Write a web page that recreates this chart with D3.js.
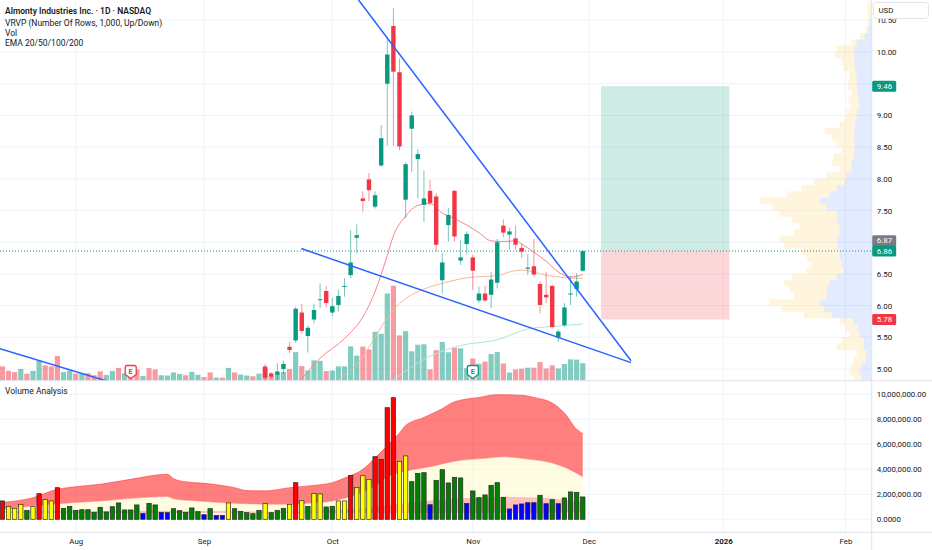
<!DOCTYPE html>
<html>
<head>
<meta charset="utf-8">
<script src="https://cdn.jsdelivr.net/npm/d3@7"></script>
<style>
  body { margin: 0; background: #fff; }
  svg text { font-family: Roboto, "Noto Sans", sans-serif; }
</style>
</head>
<body>
<svg id="chart"></svg>
<script>
// bar index 0 = 1 Aug 2025, one step per trading day
const monthIdx = [0, 21, 42, 65, 84, 106, 126];
const monthLabels = ['Aug', 'Sep', 'Oct', 'Nov', 'Dec', '2026', 'Feb'];

const candleIdx = [31, 32, 33, 34, 35, 36, 37, 38, 39, 40, 41, 42, 43, 44, 45, 46, 47, 48, 49, 50,
  51, 52, 53, 54, 55, 56, 57, 58, 59, 60, 61, 62, 63, 64, 65, 66, 67, 68, 69, 70,
  71, 72, 73, 74, 75, 76, 77, 78, 79, 80, 81, 82, 83];
const candleOpen = [5.04, 4.93, 4.91, 5.00, 5.35, 5.45, 5.89, 5.52, 5.78, 6.09, 6.23, 5.89, 6.01, 6.30, 6.48, 7.07, 7.69, 7.99, 7.56, 8.21,
  9.50, 10.41, 9.68, 7.67, 8.79, 8.31, 7.59, 7.81, 7.72, 6.40, 7.27, 7.81, 6.71, 6.97, 6.76, 6.08, 6.19, 6.17, 6.36, 7.26,
  7.12, 7.06, 6.91, 6.58, 6.62, 6.34, 6.17, 6.31, 5.50, 5.69, 6.18, 6.26, 6.55];
const candleHigh = [5.08, 4.95, 5.09, 5.13, 5.43, 5.98, 6.03, 5.69, 6.03, 6.35, 6.31, 6.12, 6.25, 6.43, 7.19, 7.28, 7.80, 8.09, 7.80, 8.85,
  10.24, 10.69, 9.90, 8.26, 9.06, 8.47, 8.13, 7.98, 7.77, 6.83, 7.54, 7.82, 7.03, 7.17, 6.80, 6.30, 6.31, 6.53, 7.05, 7.36,
  7.23, 7.26, 6.98, 6.81, 7.05, 6.38, 6.53, 6.33, 5.62, 6.04, 6.47, 6.51, 6.87];
const candleLow = [4.80, 4.85, 4.83, 4.92, 5.25, 5.41, 5.56, 5.26, 5.72, 5.96, 5.97, 5.83, 5.90, 6.14, 6.43, 6.82, 7.48, 7.65, 7.53, 8.19,
  8.52, 8.52, 8.45, 7.38, 8.11, 7.69, 7.32, 7.58, 6.85, 6.19, 7.01, 7.01, 6.64, 6.82, 6.25, 6.04, 6.06, 5.96, 6.27, 7.08,
  6.88, 6.88, 6.75, 6.48, 6.46, 5.88, 6.04, 5.64, 5.43, 5.66, 6.01, 6.14, 6.53];
const candleClose = [4.86, 4.88, 4.96, 5.08, 5.30, 5.95, 5.60, 5.65, 5.93, 6.10, 6.04, 5.99, 6.15, 6.31, 6.68, 7.11, 7.65, 7.82, 7.74, 8.64,
  9.96, 9.69, 8.51, 8.23, 9.00, 8.39, 7.69, 7.62, 6.96, 6.68, 7.43, 7.09, 6.76, 7.13, 6.55, 6.19, 6.08, 6.41, 7.00, 7.15,
  7.17, 6.96, 6.85, 6.60, 6.49, 6.01, 6.13, 5.66, 5.59, 5.97, 6.19, 6.38, 6.86];

// daily volume (millions), bars -12 .. 83
const volIdx = d3.range(-12, 84);
const volume = [1.47, 1.01, 0.88, 1.20, 0.72, 1.01, 2.05, 1.57, 1.47, 2.53, 0.88, 1.04,
  0.72, 0.77, 0.77, 0.56, 0.96, 0.59, 1.01, 1.31, 0.75, 0.75, 1.15, 0.48, 1.28, 1.15, 0.56, 0.53, 0.85, 0.69, 0.56, 0.91, 0.61,
  0.37, 0.85, 0.32, 0.32, 1.31, 0.85, 0.64, 0.53, 0.45, 0.72, 1.25, 0.53, 0.72, 0.88, 1.20, 2.93, 1.49, 1.04, 2.08, 2.03, 0.99,
  1.04, 1.47, 1.47, 3.52, 2.56, 3.49, 3.20, 5.01, 4.80, 8.93, 9.73, 4.64, 5.07, 3.01, 3.68, 3.73, 1.17, 3.12, 3.97, 2.91, 3.36, 3.31, 1.28,
  2.27, 1.73, 1.95, 2.72, 2.93, 1.76, 0.83, 1.15, 1.23, 1.33, 1.33, 1.92, 1.25, 1.57, 1.25, 1.71, 2.19, 2.16, 1.79];
// up/down for bars before the first visible candle (1 = up)
const earlyVolUp = [0, 0, 0, 1, 0, 1, 1, 0, 0, 0, 1, 1,
  0, 1, 0, 0, 0, 1, 1, 0, 1, 0, 0, 1, 0, 0, 1, 1, 1, 1, 0, 1, 1,
  0, 0, 1, 0, 1, 0, 1, 1, 0, 1];
// volume analysis class: r = very high, y = high, g = normal, b = low
const volClass = ['r', 'y', 'y', 'y', 'g', 'y', 'r', 'y', 'y', 'r', 'g', 'g',
  'g', 'g', 'g', 'g', 'g', 'g', 'g', 'g', 'g', 'g', 'g', 'b', 'g', 'g', 'b', 'b', 'g', 'g', 'g', 'g', 'g',
  'b', 'g', 'b', 'b', 'y', 'g', 'g', 'g', 'g', 'g', 'y', 'g', 'g', 'g', 'y', 'r', 'y', 'g', 'y', 'y', 'g',
  'g', 'y', 'y', 'r', 'y', 'y', 'y', 'r', 'r', 'r', 'r', 'y', 'y', 'g', 'g', 'g', 'b', 'g', 'g', 'g', 'g', 'g', 'b',
  'g', 'g', 'g', 'g', 'g', 'g', 'b', 'b', 'b', 'b', 'b', 'g', 'b', 'g', 'b', 'g', 'g', 'g', 'g'];

// volume analysis bands [bar, millions]
const vaUpper = [[-12, 1.35], [-7, 1.73], [-3, 2.4], [-1, 2.55], [4, 2.8], [9, 3.2], [15, 3.6], [16, 3.25], [18, 3.0], [21, 2.88],
  [26, 2.53], [28, 2.3], [31, 2.27], [35, 2.53], [38, 2.67], [42, 2.93], [44, 3.3], [47, 4.0], [49, 4.9], [51, 5.9], [53, 6.9],
  [54, 7.5], [57, 8.15], [60, 8.85], [62, 9.4], [66, 9.75], [69, 9.97], [73, 9.92], [75, 9.75], [78, 9.3], [80, 8.5], [82, 7.2], [83, 6.85]];
const vaMiddle = [[-12, 0.8], [-4, 1.2], [4, 1.47], [15, 1.82], [16, 1.65], [20, 1.47], [26, 1.28], [34, 1.2], [38, 1.28], [42, 1.47],
  [46, 2.0], [49, 2.7], [51, 3.4], [54, 3.85], [58, 4.2], [62, 4.65], [67, 4.88], [70, 5.0], [74, 4.82], [78, 4.5], [81, 3.95], [83, 3.4]];
const vaLower = [[-12, 0.62], [15, 0.68], [30, 0.62], [38, 0.65], [45, 0.8], [50, 1.05], [54, 1.3], [57, 1.47], [62, 1.65],
  [70, 1.81], [77, 1.7], [83, 1.33]];
const vaBase = [[-12, 0.5], [40, 0.5], [83, 0.55]];

// moving averages [bar, price]
const ema20 = [[34, 4.6], [37, 4.85], [40, 5.17], [44, 5.48], [47, 5.82], [49, 6.22], [51, 6.79], [52, 7.10], [54, 7.41], [56, 7.58],
  [58, 7.61], [60, 7.46], [62, 7.37], [64, 7.27], [66, 7.15], [68, 7.02], [70, 7.01], [72, 7.02], [73, 6.97], [75, 6.84],
  [77, 6.70], [79, 6.53], [81, 6.45], [83, 6.49]];
const ema50 = [[40, 4.6], [43, 4.83], [47, 5.19], [50, 5.66], [52, 5.93], [54, 6.11], [57, 6.26], [60, 6.35], [65, 6.45], [69, 6.47],
  [71, 6.53], [73, 6.56], [77, 6.48], [80, 6.44], [83, 6.43]];
const ema100 = [[49, 4.6], [52, 4.83], [58, 5.20], [63, 5.37], [69, 5.46], [74, 5.63], [78, 5.67], [83, 5.71]];

// drawn trend lines [bar, price]
const trendLines = [
  [[46.3, 10.82], [90.9, 5.13]],
  [[36.9, 6.90], [90.9, 5.10]],
  [[-12.4, 5.32], [14, 4.55]]
];

// long position tool
const posStart = 86, posEnd = 107;
const posEntry = 6.87, posTarget = 9.46, posStop = 5.78;
const lastPrice = 6.86;
const earningsIdx = [9, 65];
const earningsBeat = [false, true];

// visible range volume profile, 0.10 rows
const vpPrice = [10.75, 10.65, 10.55, 10.45, 10.35, 10.25, 10.15, 10.05, 9.95, 9.85, 9.75, 9.65, 9.55, 9.45, 9.35, 9.25, 9.15, 9.05,
  8.95, 8.85, 8.75, 8.65, 8.55, 8.45, 8.35, 8.25, 8.15, 8.05, 7.95, 7.85, 7.75, 7.65, 7.55, 7.45, 7.35, 7.25, 7.15, 7.05,
  6.95, 6.85, 6.75, 6.65, 6.55, 6.45, 6.35, 6.25, 6.15, 6.05, 5.95, 5.85, 5.75, 5.65, 5.55, 5.45, 5.35, 5.25, 5.15, 5.05, 4.95, 4.85];
const vpUp = [0, 0, 0.1, 0.2, 0.4, 0.7, 1.5, 1.7, 1.8, 1.7, 1.7, 1.5, 1.5, 1.5, 1.4, 1.3, 1.2, 1.5,
  1.5, 1.7, 1.7, 1.8, 1.7, 1.7, 1.8, 2.0, 2.0, 2.5, 2.7, 3.5, 4.2, 5.2, 4.5, 3.5, 3.5, 3.2, 3.2, 3.5,
  3.4, 3.2, 3.2, 3.0, 2.8, 3.5, 4.2, 4.5, 4.5, 5.2, 4.8, 4.0, 1.8, 1.4, 1.2, 0.8, 0.8, 0.5, 0.6, 1.0, 1.2, 1.0];
const vpDown = [0.4, 0.4, 0.3, 0.2, 0.2, 0.5, 0.5, 1.8, 1.9, 1.3, 1.1, 0.7, 0.8, 0.9, 0.6, 1.0, 0.9, 1.0,
  1.2, 1.5, 3.0, 2.2, 1.8, 1.3, 2.0, 2.0, 1.2, 2.0, 3.1, 3.5, 4.3, 6.0, 5.5, 5.7, 4.5, 4.0, 4.6, 5.7,
  5.4, 3.8, 3.3, 3.0, 3.7, 4.5, 4.6, 3.7, 3.3, 5.0, 4.2, 2.8, 1.4, 1.2, 1.0, 2.2, 2.7, 1.0, 1.2, 1.0, 1.0, 0.8];

const priceTicks = [5.0, 5.5, 6.0, 6.5, 7.0, 7.5, 8.0, 8.5, 9.0, 9.5, 10.0, 10.5];
const volTicks = [0, 2, 4, 6, 8, 10];

const W = 932, H = 550;
const plotW = 871.7, paneBottom = 380.7, volPaneBottom = 532.3;
const teal = '#089981', red = '#f23645', grid = '#f0f3fa';
const vaColors = { r: '#ff0000', y: '#ffff00', g: '#008000', b: '#0000ff' };

const svg = d3.select('#chart').attr('width', W).attr('height', H);

const x = d3.scaleLinear().domain([-12.4, 130.3]).range([0, plotW]);
const y = d3.scaleLinear().domain([4.815, 10.82]).range([paneBottom, 0]);
const yVolOverlay = d3.scaleLinear().domain([0, 10]).range([paneBottom, paneBottom - 97.7]);
const yVA = d3.scaleLinear().domain([0, 10]).range([519.3, 394.3]);
const vpW = d3.scaleLinear().domain([0, 10]).range([0, 100]);

const defs = svg.append('defs');
defs.append('clipPath').attr('id', 'clipPrice')
  .append('rect').attr('x', 0).attr('y', 0).attr('width', plotW).attr('height', paneBottom);
defs.append('clipPath').attr('id', 'clipVol')
  .append('rect').attr('x', 0).attr('y', paneBottom).attr('width', plotW).attr('height', volPaneBottom - paneBottom);

// grid
svg.append('g').selectAll('line').data(priceTicks).enter().append('line')
  .attr('x1', 0).attr('x2', plotW).attr('y1', d => y(d)).attr('y2', d => y(d))
  .attr('stroke', grid);
svg.append('g').selectAll('line').data(volTicks).enter().append('line')
  .attr('x1', 0).attr('x2', plotW).attr('y1', d => yVA(d)).attr('y2', d => yVA(d))
  .attr('stroke', grid);
svg.append('g').selectAll('line').data(monthIdx).enter().append('line')
  .attr('x1', d => x(d)).attr('x2', d => x(d)).attr('y1', 0).attr('y2', volPaneBottom)
  .attr('stroke', grid);

const price = svg.append('g').attr('clip-path', 'url(#clipPrice)');

// position tool
price.append('rect')
  .attr('x', x(posStart)).attr('width', x(posEnd) - x(posStart))
  .attr('y', y(posTarget)).attr('height', y(posEntry) - y(posTarget))
  .attr('fill', 'rgba(8,153,129,0.2)');
price.append('rect')
  .attr('x', x(posStart)).attr('width', x(posEnd) - x(posStart))
  .attr('y', y(posEntry)).attr('height', y(posStop) - y(posEntry))
  .attr('fill', 'rgba(242,54,69,0.2)');

// volume profile, anchored on the price scale: up part next to the scale, down part left of it
const vp = price.append('g');
const rowY = d => y(d + 0.05), rowH = d => y(d - 0.05) - y(d + 0.05);
vp.selectAll('rect.down').data(vpPrice).enter().append('rect')
  .attr('class', 'down')
  .attr('x', (d, i) => plotW - vpW(vpUp[i] + vpDown[i]))
  .attr('width', (d, i) => vpW(vpDown[i]))
  .attr('y', rowY).attr('height', rowH)
  .attr('fill', 'rgba(255,222,150,0.33)');
vp.selectAll('rect.up').data(vpPrice).enter().append('rect')
  .attr('class', 'up')
  .attr('x', (d, i) => plotW - vpW(vpUp[i]))
  .attr('width', (d, i) => vpW(vpUp[i]))
  .attr('y', rowY).attr('height', rowH)
  .attr('fill', 'rgba(41,98,255,0.13)');

// volume bars at the foot of the price pane
const candleUp = candleIdx.map((d, i) => candleClose[i] >= candleOpen[i]);
const isUp = (d, i) => {
  const k = candleIdx.indexOf(d);
  return k >= 0 ? candleUp[k] : earlyVolUp[i] === 1;
};
price.append('g').selectAll('rect').data(volIdx).enter().append('rect')
  .attr('x', d => x(d) - 2.6).attr('width', 5.2)
  .attr('y', (d, i) => yVolOverlay(volume[i]))
  .attr('height', (d, i) => paneBottom - yVolOverlay(volume[i]))
  .attr('fill', (d, i) => isUp(d, i) ? 'rgba(8,153,129,0.5)' : 'rgba(242,54,69,0.5)');

// last price line
price.append('line')
  .attr('x1', 0).attr('x2', plotW).attr('y1', y(lastPrice)).attr('y2', y(lastPrice))
  .attr('stroke', teal).attr('stroke-dasharray', '1,2');

// emas
const emaLine = d3.line().x(d => x(d[0])).y(d => y(d[1])).curve(d3.curveMonotoneX);
[[ema100, '#a9e7df'], [ema50, '#f8b795'], [ema20, '#f5868a']].forEach(([data, c]) => {
  price.append('path').attr('d', emaLine(data)).attr('fill', 'none')
    .attr('stroke', c).attr('stroke-width', 1);
});

// candles
const candles = price.append('g').selectAll('g').data(candleIdx).enter().append('g');
candles.append('line')
  .attr('x1', d => x(d)).attr('x2', d => x(d))
  .attr('y1', (d, i) => y(candleHigh[i])).attr('y2', (d, i) => y(candleLow[i]))
  .attr('stroke', (d, i) => candleUp[i] ? teal : red)
  .attr('stroke-opacity', 0.55).attr('stroke-width', 1);
candles.append('rect')
  .attr('x', d => x(d) - 2.2).attr('width', 4.4)
  .attr('y', (d, i) => y(Math.max(candleOpen[i], candleClose[i])))
  .attr('height', (d, i) => Math.max(1, Math.abs(y(candleOpen[i]) - y(candleClose[i]))))
  .attr('fill', (d, i) => candleUp[i] ? teal : red);

// trend lines
price.append('g').selectAll('line').data(trendLines).enter().append('line')
  .attr('x1', d => x(d[0][0])).attr('y1', d => y(d[0][1]))
  .attr('x2', d => x(d[1][0])).attr('y2', d => y(d[1][1]))
  .attr('stroke', '#2962ff').attr('stroke-width', 1.5);

// earnings badges
const badge = price.append('g').selectAll('g').data(earningsIdx).enter().append('g')
  .attr('transform', d => 'translate(' + x(d) + ',372)');
badge.append('path')
  .attr('d', 'M-5.5,-4.5 Q-5.5,-6.5 -3.5,-6.5 L3.5,-6.5 Q5.5,-6.5 5.5,-4.5 L5.5,2.5 L0,6.5 L-5.5,2.5 Z')
  .attr('fill', '#fff').attr('stroke', (d, i) => earningsBeat[i] ? teal : red).attr('stroke-width', 1.3);
badge.append('text').attr('y', 0.5).attr('text-anchor', 'middle').attr('dominant-baseline', 'middle')
  .attr('font-size', 7.5).attr('font-weight', 700)
  .attr('fill', (d, i) => earningsBeat[i] ? teal : red).text('E');

// volume analysis pane
const va = svg.append('g').attr('clip-path', 'url(#clipVol)');
const mono = d3.line().curve(d3.curveMonotoneX);
const toPts = arr => arr.map(d => [x(d[0]), yVA(d[1])]);
const area = (top, bottom) => mono(toPts(top)) + 'L' + mono(toPts(bottom).reverse()).slice(1) + 'Z';
va.append('path').attr('d', area(vaUpper, vaMiddle)).attr('fill', 'rgba(255,0,0,0.5)');
va.append('path').attr('d', area(vaMiddle, vaLower)).attr('fill', 'rgba(255,248,170,0.35)');
va.append('path').attr('d', area(vaLower, vaBase)).attr('fill', 'rgba(255,0,0,0.25)');
va.append('path').attr('d', mono(toPts(vaUpper))).attr('fill', 'none').attr('stroke', 'rgba(255,60,60,0.6)');
va.append('path').attr('d', mono(toPts(vaMiddle))).attr('fill', 'none').attr('stroke', 'rgba(255,120,120,0.5)');

va.append('g').selectAll('rect').data(volIdx).enter().append('rect')
  .attr('x', d => x(d) - 2.2).attr('width', 4.4)
  .attr('y', (d, i) => yVA(volume[i]))
  .attr('height', (d, i) => yVA(0) - yVA(volume[i]))
  .attr('fill', (d, i) => vaColors[volClass[i]])
  .attr('stroke', '#2a2a2a').attr('stroke-width', 0.7);

// separators
svg.append('line').attr('x1', 0).attr('x2', W).attr('y1', paneBottom).attr('y2', paneBottom).attr('stroke', '#e0e3eb');
svg.append('line').attr('x1', 0).attr('x2', W).attr('y1', volPaneBottom).attr('y2', volPaneBottom).attr('stroke', '#e0e3eb');
svg.append('line').attr('x1', plotW).attr('x2', plotW).attr('y1', 0).attr('y2', H).attr('stroke', '#e0e3eb');

// price labels on the scale
const tagH = 11;
const tags = [
  { v: posTarget, c: y(posTarget), bg: teal },
  { v: posEntry, c: y(lastPrice) - 10.4, bg: '#787b86' },
  { v: lastPrice, c: y(lastPrice), bg: teal },
  { v: posStop, c: y(posStop), bg: red }
];
// the scale hides tick labels that a tag covers
const labelTicks = priceTicks.filter(t => tags.every(g => Math.abs(y(t) - g.c) > 9));

// axes
const fs = 7.9;
const priceAxis = svg.append('g').attr('transform', 'translate(' + plotW + ',0)')
  .call(d3.axisRight(y).tickValues(labelTicks).tickFormat(d3.format('.2f')).tickSize(0).tickPadding(5));
const volAxis = svg.append('g').attr('transform', 'translate(' + plotW + ',0)')
  .call(d3.axisRight(yVA).tickValues(volTicks).tickSize(0).tickPadding(5)
    .tickFormat(d => d === 0 ? '0.0000' : d3.format(',.2f')(d * 1e6)));
const timeAxis = svg.append('g').attr('transform', 'translate(0,' + volPaneBottom + ')')
  .call(d3.axisBottom(x).tickValues(monthIdx).tickSize(0).tickPadding(6)
    .tickFormat((d, i) => monthLabels[i]));
[priceAxis, volAxis, timeAxis].forEach(a => {
  a.select('.domain').remove();
  a.selectAll('text').attr('font-size', fs).attr('fill', '#131722')
    .style('font-family', 'Roboto, "Noto Sans", sans-serif');
});
timeAxis.selectAll('text').filter(d => d === 106).attr('font-weight', 700);

const tag = svg.append('g').selectAll('g').data(tags).enter().append('g');
tag.append('rect').attr('x', plotW + 0.5).attr('width', 24).attr('y', d => d.c - tagH / 2).attr('height', tagH)
  .attr('rx', 1.5).attr('fill', d => d.bg);
tag.append('text').attr('x', plotW + 5).attr('y', d => d.c).attr('dominant-baseline', 'central')
  .attr('font-size', fs).attr('fill', '#fff').text(d => d.v.toFixed(2));

// currency box
svg.append('rect').attr('x', 873.5).attr('y', 2.5).attr('width', 55).attr('height', 16).attr('rx', 3)
  .attr('fill', '#fff').attr('stroke', '#e0e3eb');
svg.append('text').attr('x', 878.5).attr('y', 10.8).attr('dominant-baseline', 'central')
  .attr('font-size', fs).attr('fill', '#131722').text('USD');

// legend
const legend = ['Almonty Industries Inc. · 1D · NASDAQ', 'VRVP (Number Of Rows, 1,000, Up/Down)', 'Vol', 'EMA 20/50/100/200'];
svg.append('g').selectAll('text').data(legend).enter().append('text')
  .attr('x', 5).attr('y', (d, i) => i === 0 ? 10.7 : 22.5 + (i - 1) * 10)
  .attr('dominant-baseline', 'central').attr('font-size', 8.5)
  .attr('font-weight', (d, i) => i === 0 ? 600 : 400)
  .attr('fill', '#131722').text(d => d);
svg.append('text').attr('x', 5).attr('y', 391).attr('dominant-baseline', 'central')
  .attr('font-size', 8.5).attr('fill', '#131722').text('Volume Analysis');
</script>
</body>
</html>
